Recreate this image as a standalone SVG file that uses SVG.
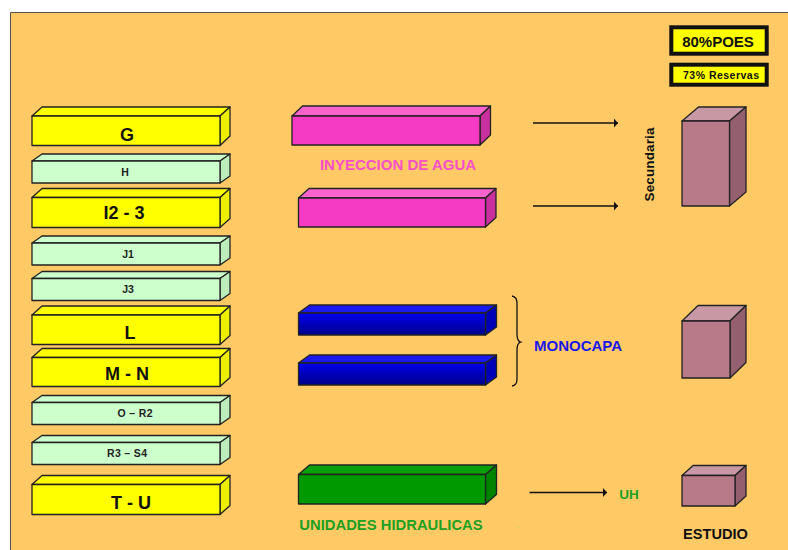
<svg xmlns="http://www.w3.org/2000/svg" width="788" height="550" viewBox="0 0 788 550">
<defs>
<linearGradient id="blueFront" x1="0" y1="0" x2="0" y2="1">
<stop offset="0" stop-color="#0000EE"/>
<stop offset="1" stop-color="#00008A"/>
</linearGradient>
<marker id="arr" markerWidth="4" markerHeight="9" refX="4" refY="4.5" orient="auto" markerUnits="userSpaceOnUse">
<path d="M0,0 L4,4.5 L0,9 Z" fill="#111"/>
</marker>
</defs>
<style>
.s{stroke:#222;stroke-width:1.3;stroke-linejoin:round}
.yf{fill:#FFFF00}.yt{fill:#FFFF00}.yr{fill:#EEEE00}
.gf{fill:#CCFFCC}.gt{fill:#CCFFCC}.gr{fill:#BBEEBB}
.pf{fill:#F53AC3}.pt{fill:#F864CC}.pr{fill:#C8309E}
.bf{fill:url(#blueFront)}.bt{fill:#1A1AF0}.br{fill:#0000B8}
.hf{fill:#009900}.ht{fill:#0AA00A}.hr{fill:#008400}
.mf{fill:#B87A88}.mt{fill:#C898A4}.mr{fill:#946070}
.t{font-family:"Liberation Sans",Arial,sans-serif;font-weight:bold;text-anchor:middle}
.big{font-size:18px;fill:#111}
.sm{font-size:10.5px;fill:#222}
.conn{stroke:#111;stroke-width:1.3;fill:none}
</style>
<rect x="0" y="0" width="788" height="550" fill="#FFFFFF"/>
<rect x="10" y="12" width="778" height="538" fill="#FFCA66"/>
<path d="M10.5,550 L10.5,12.5 L788,12.5" fill="none" stroke="#555" stroke-width="1"/>

<g id="box-G">
<polygon class="s yt" points="32,116 42,107 230,107 220,116"/><polygon class="s yr" points="220,116 230,107 230,136 220,145.5"/><rect class="s yf" x="32" y="116" width="188" height="29.5"/>
<text class="t big" x="127" y="141">G</text></g>
<g id="box-H">
<polygon class="s gt" points="32,161 42,154 230,154 220,161"/><polygon class="s gr" points="220,161 230,154 230,176 220,183"/><rect class="s gf" x="32" y="161" width="188" height="22"/>
<text class="t sm" x="125" y="175.5">H</text></g>
<g id="box-I2-3">
<polygon class="s yt" points="32,197.5 42,188.5 230,188.5 220,197.5"/><polygon class="s yr" points="220,197.5 230,188.5 230,218.5 220,227.5"/><rect class="s yf" x="32" y="197.5" width="188" height="30"/>
<text class="t big" x="124" y="219">I2 - 3</text></g>
<g id="box-J1">
<polygon class="s gt" points="32,243 42,236 230,236 220,243"/><polygon class="s gr" points="220,243 230,236 230,258 220,265"/><rect class="s gf" x="32" y="243" width="188" height="22"/>
<text class="t sm" x="128" y="257.5">J1</text></g>
<g id="box-J3">
<polygon class="s gt" points="32,278.5 42,271.5 230,271.5 220,278.5"/><polygon class="s gr" points="220,278.5 230,271.5 230,293.5 220,300.5"/><rect class="s gf" x="32" y="278.5" width="188" height="22"/>
<text class="t sm" x="128" y="293">J3</text></g>
<g id="box-L">
<polygon class="s yt" points="32,315 42,306 230,306 220,315"/><polygon class="s yr" points="220,315 230,306 230,335.5 220,344.5"/><rect class="s yf" x="32" y="315" width="188" height="29.5"/>
<text class="t big" x="130" y="339">L</text></g>
<g id="box-M-N">
<polygon class="s yt" points="32,357.5 42,348.5 230,348.5 220,357.5"/><polygon class="s yr" points="220,357.5 230,348.5 230,377.5 220,386.5"/><rect class="s yf" x="32" y="357.5" width="188" height="29"/>
<text class="t big" x="127" y="380">M - N</text></g>
<g id="box-O-R2">
<polygon class="s gt" points="32,402.5 42,395.5 230,395.5 220,402.5"/><polygon class="s gr" points="220,402.5 230,395.5 230,417.5 220,424.5"/><rect class="s gf" x="32" y="402.5" width="188" height="22"/>
<text class="t sm" x="135" y="417" textLength="35">O – R2</text></g>
<g id="box-R3-S4">
<polygon class="s gt" points="32,442.5 42,435.5 230,435.5 220,442.5"/><polygon class="s gr" points="220,442.5 230,435.5 230,457.5 220,464.5"/><rect class="s gf" x="32" y="442.5" width="188" height="22"/>
<text class="t sm" x="127" y="457" textLength="40">R3 – S4</text></g>
<g id="box-T-U">
<polygon class="s yt" points="32,484.5 42,475.5 230,475.5 220,484.5"/><polygon class="s yr" points="220,484.5 230,475.5 230,505.5 220,514.5"/><rect class="s yf" x="32" y="484.5" width="188" height="30"/>
<text class="t big" x="131" y="509">T - U</text></g>

<g id="pink-1">
<polygon class="s pt" points="292,116 302.5,106 490.5,106 480,116"/><polygon class="s pr" points="480,116 490.5,106 490.5,135 480,145"/><rect class="s pf" x="292" y="116" width="188" height="29"/></g>
<text class="t" x="398" y="170" font-size="15" fill="#F850C8">INYECCION DE AGUA</text>
<g id="pink-2">
<polygon class="s pt" points="298.5,198 309,188.5 496,188.5 485.5,198"/><polygon class="s pr" points="485.5,198 496,188.5 496,217.5 485.5,227"/><rect class="s pf" x="298.5" y="198" width="187" height="29"/></g>

<g id="blue-1">
<polygon class="s bt" points="298.5,313 309.5,305 496.5,305 485.5,313"/><polygon class="s br" points="485.5,313 496.5,305 496.5,327 485.5,335"/><rect class="s bf" x="298.5" y="313" width="187" height="22"/></g>
<g id="blue-2">
<polygon class="s bt" points="298.5,363 309.5,355 496.5,355 485.5,363"/><polygon class="s br" points="485.5,363 496.5,355 496.5,377 485.5,385"/><rect class="s bf" x="298.5" y="363" width="187" height="22"/></g>
<text class="t" x="578" y="350.5" font-size="15" fill="#1818E8">MONOCAPA</text>

<g id="green-1">
<polygon class="s ht" points="298.5,474.5 309.5,465 496.5,465 485.5,474.5"/><polygon class="s hr" points="485.5,474.5 496.5,465 496.5,494.5 485.5,504"/><rect class="s hf" x="298.5" y="474.5" width="187" height="29.5"/></g>
<text class="t" x="391" y="529.5" font-size="14.8" fill="#20A020">UNIDADES HIDRAULICAS</text>
<text class="t" x="517.5" y="528" font-size="6" fill="#66EE33">.</text>
<text class="t" x="629" y="499" font-size="13.5" fill="#20A020">UH</text>

<g id="poes">
<rect x="671.3" y="27.3" width="95.4" height="26.4" fill="#FFFF00" stroke="#111" stroke-width="4"/>
<text class="t" x="718" y="46.5" font-size="15" fill="#111">80%POES</text></g>
<g id="reservas">
<rect x="671.3" y="64.7" width="95.4" height="20" fill="#FFFF00" stroke="#111" stroke-width="4"/>
<text class="t" x="721" y="78.5" font-size="10.5" fill="#111" textLength="76">73% Reservas</text></g>

<g id="mauve-1">
<polygon class="s mt" points="682,121 698.5,107 746,107 729.5,121"/><polygon class="s mr" points="729.5,121 746,107 746,192 729.5,206"/><rect class="s mf" x="682" y="121" width="47.5" height="85"/></g>
<text class="t" x="0" y="0" font-size="13.5" fill="#111" transform="translate(654,164.5) rotate(-90)" textLength="74">Secundaria</text>
<g id="mauve-2">
<polygon class="s mt" points="682,321 698,305.5 746,305.5 730,321"/><polygon class="s mr" points="730,321 746,305.5 746,362.5 730,378"/><rect class="s mf" x="682" y="321" width="48" height="57"/></g>
<g id="mauve-3">
<polygon class="s mt" points="682,475.5 693,465.5 746,465.5 735,475.5"/><polygon class="s mr" points="735,475.5 746,465.5 746,496 735,506"/><rect class="s mf" x="682" y="475.5" width="53" height="30.5"/></g>
<text class="t" x="715.5" y="538.5" font-size="14.6" fill="#111">ESTUDIO</text>

<g id="connectors">
<line class="conn" x1="533" y1="123" x2="618" y2="123" marker-end="url(#arr)"/>
<line class="conn" x1="533" y1="206" x2="618" y2="206" marker-end="url(#arr)"/>
<line class="conn" x1="529.5" y1="492.5" x2="607" y2="492.5" marker-end="url(#arr)"/>
<path class="conn" d="M512,296 Q517,297 517,303 L517,334 Q517,341 520.5,342 Q517,343 517,350 L517,379 Q517,385.5 512,386"/>
</g>
</svg>
